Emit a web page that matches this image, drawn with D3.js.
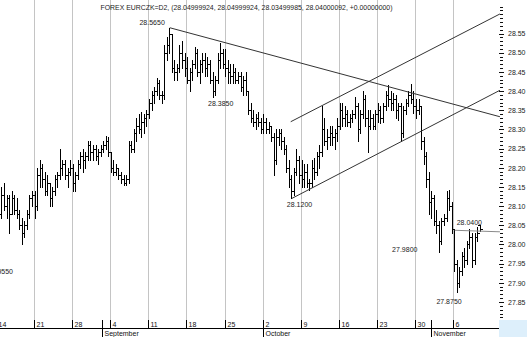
<!DOCTYPE html>
<html>
<head>
<meta charset="utf-8">
<script src="https://cdn.jsdelivr.net/npm/d3@7"></script>
<style>
    html, body { margin: 0; padding: 0; background: #fff; }
    svg { display: block; font-family: 'Liberation Sans', Arial, sans-serif; }
</style>
</head>
<body>
<div id="chart"></div>
<script>
const title = 'FOREX EURCZK=D2, (28.04999924, 28.04999924, 28.03499985, 28.04000092, +0.00000000)';

// one label per week, the Monday of that week (trading day index = i * 5)
const weekLabels = ['14', '21', '28', '4', '11', '18', '25', '2', '9', '16', '23', '30', '6'];
const monthNames = ['September', 'October', 'November'];
const monthStartDays = [14, 35, 57];
const priceTicks = [27.85, 27.90, 27.95, 28.00, 28.05, 28.10, 28.15, 28.20,
    28.25, 28.30, 28.35, 28.40, 28.45, 28.50, 28.55];

// intraday bars [open, high, low, close], three per trading day (Aug 14 .. Nov 9)
const days = [
    // Aug 14 - 18
    [[28.03, 28.056, 28.00, 28.04], [28.04, 28.09, 28.03, 28.08], [28.08, 28.15, 28.07, 28.13]],
    [[28.13, 28.16, 28.09, 28.10], [28.10, 28.13, 28.07, 28.12], [28.12, 28.13, 28.03, 28.08]],
    [[28.08, 28.14, 28.08, 28.12], [28.12, 28.13, 28.08, 28.09], [28.09, 28.12, 28.07, 28.08]],
    [[28.08, 28.09, 28.04, 28.05], [28.05, 28.07, 28.00, 28.03], [28.03, 28.06, 28.02, 28.05]],
    [[28.05, 28.09, 28.04, 28.08], [28.08, 28.13, 28.07, 28.12], [28.12, 28.14, 28.10, 28.13]],
    // Aug 21 - 25
    [[28.13, 28.14, 28.07, 28.10], [28.10, 28.20, 28.09, 28.18], [28.18, 28.22, 28.15, 28.20]],
    [[28.20, 28.21, 28.15, 28.17], [28.17, 28.19, 28.13, 28.14], [28.14, 28.18, 28.13, 28.16]],
    [[28.16, 28.16, 28.10, 28.12], [28.12, 28.15, 28.10, 28.14], [28.14, 28.18, 28.13, 28.17]],
    [[28.17, 28.19, 28.15, 28.18], [28.18, 28.25, 28.17, 28.20], [28.20, 28.22, 28.18, 28.21]],
    [[28.21, 28.22, 28.17, 28.18], [28.18, 28.20, 28.15, 28.19], [28.19, 28.22, 28.18, 28.20]],
    // Aug 28 - Sep 1
    [[28.20, 28.21, 28.14, 28.16], [28.16, 28.19, 28.14, 28.18], [28.18, 28.22, 28.17, 28.21]],
    [[28.21, 28.24, 28.20, 28.23], [28.23, 28.25, 28.19, 28.22], [28.22, 28.24, 28.20, 28.23]],
    [[28.23, 28.27, 28.22, 28.26], [28.26, 28.27, 28.22, 28.24], [28.24, 28.26, 28.22, 28.25]],
    [[28.25, 28.26, 28.22, 28.23], [28.23, 28.25, 28.21, 28.24], [28.24, 28.26, 28.23, 28.25]],
    [[28.25, 28.27, 28.24, 28.26], [28.26, 28.284, 28.25, 28.27], [28.27, 28.28, 28.23, 28.24]],
    // Sep 4 - 8
    [[28.24, 28.24, 28.19, 28.20], [28.20, 28.22, 28.18, 28.19], [28.19, 28.21, 28.18, 28.20]],
    [[28.20, 28.20, 28.17, 28.18], [28.18, 28.19, 28.16, 28.17], [28.17, 28.18, 28.155, 28.16]],
    [[28.16, 28.18, 28.155, 28.17], [28.17, 28.27, 28.16, 28.26], [28.26, 28.27, 28.24, 28.25]],
    [[28.25, 28.30, 28.24, 28.29], [28.29, 28.33, 28.27, 28.31], [28.31, 28.34, 28.29, 28.30]],
    [[28.30, 28.345, 28.28, 28.32], [28.32, 28.34, 28.29, 28.33], [28.33, 28.35, 28.31, 28.34]],
    // Sep 11 - 15
    [[28.34, 28.38, 28.33, 28.37], [28.37, 28.40, 28.35, 28.39], [28.39, 28.41, 28.37, 28.40]],
    [[28.40, 28.434, 28.39, 28.42], [28.42, 28.43, 28.38, 28.39], [28.39, 28.40, 28.37, 28.39]],
    [[28.39, 28.52, 28.38, 28.50], [28.50, 28.54, 28.48, 28.52], [28.52, 28.565, 28.50, 28.55]],
    [[28.55, 28.55, 28.45, 28.46], [28.46, 28.48, 28.43, 28.45], [28.45, 28.47, 28.43, 28.46]],
    [[28.46, 28.52, 28.45, 28.50], [28.50, 28.53, 28.46, 28.48], [28.48, 28.50, 28.44, 28.46]],
    // Sep 18 - 22
    [[28.46, 28.49, 28.42, 28.43], [28.43, 28.46, 28.40, 28.45], [28.45, 28.48, 28.43, 28.47]],
    [[28.47, 28.515, 28.46, 28.50], [28.50, 28.51, 28.44, 28.45], [28.45, 28.48, 28.42, 28.47]],
    [[28.47, 28.50, 28.45, 28.48], [28.48, 28.50, 28.44, 28.46], [28.46, 28.49, 28.44, 28.47]],
    [[28.47, 28.48, 28.42, 28.43], [28.43, 28.45, 28.385, 28.40], [28.40, 28.44, 28.39, 28.43]],
    [[28.43, 28.50, 28.42, 28.48], [28.48, 28.525, 28.46, 28.50], [28.50, 28.51, 28.46, 28.47]],
    // Sep 25 - 29
    [[28.47, 28.51, 28.44, 28.46], [28.46, 28.48, 28.42, 28.45], [28.45, 28.47, 28.42, 28.44]],
    [[28.44, 28.47, 28.42, 28.45], [28.45, 28.46, 28.42, 28.43], [28.43, 28.45, 28.42, 28.44]],
    [[28.44, 28.45, 28.40, 28.41], [28.41, 28.44, 28.39, 28.43], [28.43, 28.45, 28.39, 28.40]],
    [[28.40, 28.40, 28.34, 28.35], [28.35, 28.37, 28.32, 28.33], [28.33, 28.35, 28.31, 28.32]],
    [[28.32, 28.34, 28.30, 28.33], [28.33, 28.345, 28.31, 28.32], [28.32, 28.33, 28.29, 28.30]],
    // Oct 2 - 6
    [[28.30, 28.34, 28.29, 28.32], [28.32, 28.33, 28.29, 28.30], [28.30, 28.32, 28.29, 28.31]],
    [[28.31, 28.31, 28.27, 28.28], [28.28, 28.29, 28.18, 28.22], [28.22, 28.30, 28.21, 28.28]],
    [[28.28, 28.30, 28.26, 28.29], [28.29, 28.30, 28.25, 28.27], [28.27, 28.28, 28.235, 28.25]],
    [[28.25, 28.26, 28.19, 28.20], [28.20, 28.22, 28.15, 28.17], [28.17, 28.18, 28.12, 28.14]],
    [[28.14, 28.20, 28.13, 28.19], [28.19, 28.25, 28.18, 28.22], [28.22, 28.23, 28.16, 28.18]],
    // Oct 9 - 13
    [[28.18, 28.22, 28.15, 28.17], [28.17, 28.21, 28.15, 28.19], [28.19, 28.21, 28.15, 28.16]],
    [[28.16, 28.17, 28.142, 28.16], [28.16, 28.22, 28.15, 28.20], [28.20, 28.225, 28.17, 28.19]],
    [[28.19, 28.24, 28.18, 28.23], [28.23, 28.26, 28.20, 28.24], [28.24, 28.36, 28.23, 28.30]],
    [[28.30, 28.33, 28.26, 28.27], [28.27, 28.30, 28.25, 28.28], [28.28, 28.31, 28.26, 28.29]],
    [[28.29, 28.31, 28.26, 28.28], [28.28, 28.30, 28.25, 28.29], [28.29, 28.33, 28.27, 28.31]],
    // Oct 16 - 20
    [[28.31, 28.37, 28.30, 28.35], [28.35, 28.37, 28.31, 28.33], [28.33, 28.36, 28.31, 28.34]],
    [[28.34, 28.35, 28.31, 28.32], [28.32, 28.34, 28.306, 28.33], [28.33, 28.35, 28.32, 28.34]],
    [[28.34, 28.385, 28.33, 28.36], [28.36, 28.37, 28.27, 28.30], [28.30, 28.35, 28.29, 28.34]],
    [[28.34, 28.40, 28.33, 28.38], [28.38, 28.39, 28.31, 28.33], [28.33, 28.35, 28.24, 28.31]],
    [[28.31, 28.35, 28.30, 28.33], [28.33, 28.34, 28.30, 28.31], [28.31, 28.35, 28.30, 28.34]],
    // Oct 23 - 27
    [[28.34, 28.37, 28.32, 28.35], [28.35, 28.36, 28.317, 28.33], [28.33, 28.37, 28.32, 28.36]],
    [[28.36, 28.40, 28.35, 28.39], [28.39, 28.416, 28.36, 28.38], [28.38, 28.40, 28.35, 28.37]],
    [[28.37, 28.395, 28.35, 28.38], [28.38, 28.39, 28.33, 28.35], [28.35, 28.37, 28.325, 28.36]],
    [[28.36, 28.37, 28.27, 28.29], [28.29, 28.36, 28.28, 28.35], [28.35, 28.38, 28.34, 28.37]],
    [[28.37, 28.40, 28.36, 28.39], [28.39, 28.418, 28.37, 28.38], [28.38, 28.40, 28.343, 28.36]],
    // Oct 30 - Nov 3
    [[28.36, 28.38, 28.33, 28.35], [28.35, 28.38, 28.34, 28.36], [28.36, 28.36, 28.25, 28.27]],
    [[28.27, 28.28, 28.21, 28.23], [28.23, 28.24, 28.15, 28.17], [28.17, 28.19, 28.08, 28.11]],
    [[28.11, 28.14, 28.07, 28.12], [28.12, 28.13, 28.05, 28.06], [28.06, 28.09, 28.03, 28.05]],
    [[28.05, 28.06, 27.98, 28.01], [28.01, 28.07, 28.00, 28.06], [28.06, 28.08, 28.05, 28.07]],
    [[28.07, 28.14, 28.06, 28.12], [28.12, 28.142, 28.09, 28.10], [28.10, 28.11, 28.03, 28.04]],
    // Nov 6 - 9
    [[28.04, 28.04, 27.93, 27.95], [27.95, 27.96, 27.875, 27.90], [27.90, 27.94, 27.89, 27.93]],
    [[27.93, 27.98, 27.92, 27.97], [27.97, 27.99, 27.94, 27.96], [27.96, 28.01, 27.95, 28.00]],
    [[28.00, 28.04, 27.99, 28.02], [28.02, 28.03, 27.94, 27.96], [27.96, 28.03, 27.95, 28.02]],
    [[28.02, 28.045, 28.01, 28.03], [28.05, 28.05, 28.035, 28.04]],
];

// drawn lines: [trading day, price] pairs
const trendLines = [
    {kind: 'trend', from: [22.83, 28.565], to: [66.1, 28.333]},
    {kind: 'trend', from: [38.68, 28.320], to: [66.1, 28.601]},
    {kind: 'trend', from: [38.83, 28.120], to: [66.1, 28.402]},
    {kind: 'level', from: [60.17, 28.037], to: [66.1, 28.033]},
];

const priceLabels = [
    {text: '27.9550', day: -0.38, price: 27.947, place: 'below'},
    {text: '28.5650', day: 22.83, price: 28.565, place: 'above-left'},
    {text: '28.3850', day: 28.5, price: 28.385, place: 'below'},
    {text: '28.1200', day: 38.83, price: 28.120, place: 'below'},
    {text: '27.9800', day: 58.17, price: 27.980, place: 'left'},
    {text: '28.0400', day: 60.17, price: 28.040, place: 'above-right'},
    {text: '27.8750', day: 60.5, price: 27.875, place: 'below-left'},
];

const width = 527;
const height = 337;
const plotRight = 499;
const plotBottom = 320;
const barsPerDay = 3;

const x = d3.scaleLinear().domain([0, 60]).range([-4.4, 453.4]);
const y = d3.scaleLinear().domain([27.85, 28.55]).range([302, 33.5]);
const dayWidth = x(1) - x(0);

const svg = d3.select('#chart')
    .append('svg')
    .attr('width', width)
    .attr('height', height);

svg.append('clipPath')
    .attr('id', 'plot-clip')
    .append('rect')
    .attr('x', 0)
    .attr('y', 0)
    .attr('width', plotRight + 1)
    .attr('height', plotBottom);

// weekly grid
svg.append('g')
    .selectAll('line')
    .data(weekLabels)
    .join('line')
    .attr('x1', (d, i) => Math.round(x(i * 5)) + 0.5)
    .attr('x2', (d, i) => Math.round(x(i * 5)) + 0.5)
    .attr('y1', 0)
    .attr('y2', plotBottom)
    .attr('stroke', '#c4c4c4')
    .attr('shape-rendering', 'crispEdges');

svg.append('text')
    .attr('x', 246.5)
    .attr('y', 10)
    .attr('text-anchor', 'middle')
    .attr('font-size', 6.9)
    .attr('fill', '#222')
    .text(title);

// bars
const flat = [];
days.forEach((bars, d) => {
    bars.forEach((b, j) => {
        flat.push({day: d, slot: j, o: b[0], h: b[1], l: b[2], c: b[3]});
    });
});

const barX = (b) => Math.floor(x(b.day) + ((b.slot + 0.5) * dayWidth) / barsPerDay);

const barG = svg.append('g')
    .attr('clip-path', 'url(#plot-clip)')
    .attr('fill', '#000')
    .attr('shape-rendering', 'crispEdges');

const bar = barG.selectAll('g')
    .data(flat)
    .join('g');

bar.append('rect')
    .attr('x', barX)
    .attr('y', (b) => Math.round(y(b.h)))
    .attr('width', 1)
    .attr('height', (b) => Math.max(1, Math.round(y(b.l)) - Math.round(y(b.h)) + 1));

// open tick on the left, close tick on the right
bar.append('rect')
    .attr('x', (b) => barX(b) - 2)
    .attr('y', (b) => Math.round(y(b.o)))
    .attr('width', 2)
    .attr('height', 1);

bar.append('rect')
    .attr('x', (b) => barX(b) + 1)
    .attr('y', (b) => Math.round(y(b.c)))
    .attr('width', 2)
    .attr('height', 1);

// trend lines
const line = d3.line()
    .x((p) => x(p[0]))
    .y((p) => y(p[1]));

svg.append('g')
    .attr('clip-path', 'url(#plot-clip)')
    .selectAll('path')
    .data(trendLines)
    .join('path')
    .attr('d', (t) => line([t.from, t.to]))
    .attr('fill', 'none')
    .attr('stroke', (t) => t.kind === 'level' ? '#8a8a8a' : '#333')
    .attr('stroke-width', 1);

// price labels
const placement = {
    'below': {anchor: 'start', dx: -5, dy: 9},
    'above-left': {anchor: 'end', dx: -5, dy: -2.5},
    'left': {anchor: 'end', dx: -22, dy: 0},
    'above-right': {anchor: 'start', dx: 2, dy: -4},
    'below-left': {anchor: 'end', dx: 4.5, dy: 12},
};

svg.append('g')
    .attr('font-size', 7)
    .attr('fill', '#222')
    .selectAll('text')
    .data(priceLabels)
    .join('text')
    .attr('x', (d) => x(d.day) + placement[d.place].dx)
    .attr('y', (d) => y(d.price) + placement[d.place].dy)
    .attr('text-anchor', (d) => placement[d.place].anchor)
    .text((d) => d.text);

// right price axis: minor ticks every 0.01, labelled ticks every 0.05
const minorTicks = d3.range(2781, 2863).map((v) => v / 100);

svg.append('g')
    .attr('transform', 'translate(' + (plotRight + 1) + ',0)')
    .call(d3.axisRight(y).tickValues(minorTicks).tickSize(2.5).tickFormat(''))
    .call((g) => g.select('.domain').remove())
    .call((g) => g.selectAll('line').attr('stroke', '#111').attr('shape-rendering', 'crispEdges'));

svg.append('g')
    .attr('transform', 'translate(' + plotRight + ',0)')
    .call(d3.axisRight(y).tickValues(priceTicks).tickSize(4.5).tickPadding(4.5).tickFormat(d3.format('.2f')))
    .call((g) => g.select('.domain').remove())
    .call((g) => g.selectAll('line').attr('stroke', '#111').attr('shape-rendering', 'crispEdges'))
    .call((g) => g.selectAll('text')
        .attr('font-size', 7)
        .attr('font-family', "'Liberation Sans', Arial, sans-serif")
        .attr('fill', '#222'));

svg.append('rect')
    .attr('x', plotRight)
    .attr('y', plotBottom)
    .attr('width', width - plotRight)
    .attr('height', height - plotBottom)
    .attr('fill', '#ddeffb');

// bottom time axis
const timeAxis = svg.append('g')
    .attr('shape-rendering', 'crispEdges');

timeAxis.append('line')
    .attr('x1', 0)
    .attr('x2', plotRight)
    .attr('y1', 328.5)
    .attr('y2', 328.5)
    .attr('stroke', '#000');

const week = timeAxis.selectAll('.week')
    .data(weekLabels)
    .join('g')
    .attr('class', 'week')
    .attr('transform', (d, i) => 'translate(' + (Math.round(x(i * 5)) + 0.5) + ',0)');

week.append('line')
    .attr('y1', plotBottom)
    .attr('y2', 328)
    .attr('stroke', '#000');

week.append('text')
    .attr('x', 2)
    .attr('y', 326.5)
    .attr('font-size', 7)
    .attr('fill', '#111')
    .text((d) => d);

const month = timeAxis.selectAll('.month')
    .data(monthNames)
    .join('g')
    .attr('class', 'month')
    .attr('transform', (d, i) => 'translate(' + (Math.round(x(monthStartDays[i])) + 0.5) + ',0)');

month.append('line')
    .attr('y1', plotBottom)
    .attr('y2', height)
    .attr('stroke', '#000');

month.append('text')
    .attr('x', 2)
    .attr('y', 335.5)
    .attr('font-size', 7)
    .attr('fill', '#111')
    .text((d) => d);
</script>
</body>
</html>
